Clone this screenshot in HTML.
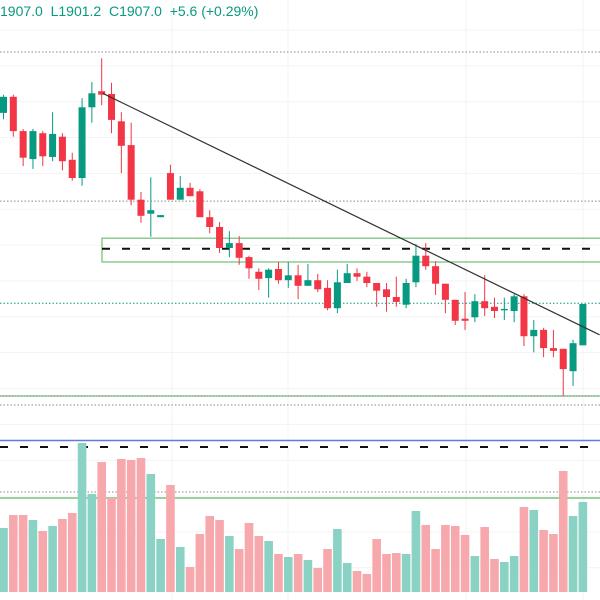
<!DOCTYPE html>
<html><head><meta charset="utf-8"><style>
html,body{margin:0;padding:0;background:#fff;}
#wrap{position:relative;width:600px;height:600px;overflow:hidden;font-family:"Liberation Sans",sans-serif;}
#hdr{position:absolute;left:0;top:3px;font-size:14px;color:#089981;white-space:pre;}
</style></head><body>
<div id="wrap">
<svg id="svg" width="600" height="600"></svg>
<div id="hdr">1907.0  L1901.2  C1907.0  +5.6 (+0.29%)</div>
</div>
<script>
const opens=[1934.3,1936.6,1931.7,1927.7,1931.4,1928.0,1930.9,1927.6,1925.0,1935.1,1937.4,1937.0,1933.1,1929.7,1921.9,1919.9,1919.4,1925.7,1921.9,1923.6,1923.1,1919.4,1918.0,1915.0,1915.7,1913.7,1911.6,1910.7,1912.0,1910.4,1911.1,1909.6,1910.4,1909.3,1906.4,1910.0,1911.4,1910.9,1910.0,1909.1,1908.0,1906.9,1910.1,1913.9,1912.4,1909.9,1907.6,1904.9,1905.1,1907.4,1906.6,1906.1,1906.0,1908.1,1902.4,1903.3,1900.7,1900.6,1897.4,1901.1];
const highs=[1936.9,1936.9,1932.0,1932.0,1931.7,1934.4,1931.4,1928.6,1936.4,1938.7,1942.1,1938.6,1934.4,1932.9,1923.0,1925.1,1919.7,1926.9,1925.3,1924.3,1923.4,1920.4,1918.7,1917.4,1916.7,1913.9,1912.1,1912.1,1913.0,1913.0,1912.6,1912.7,1911.3,1910.4,1911.9,1912.7,1912.1,1911.6,1910.0,1910.0,1910.9,1910.6,1915.6,1915.7,1913.1,1909.9,1907.6,1908.7,1908.4,1911.1,1907.9,1907.9,1908.4,1908.4,1904.7,1903.6,1903.3,1900.6,1901.9,1907.0];
const lows=[1933.4,1930.9,1926.7,1926.3,1926.7,1927.4,1926.1,1924.6,1923.9,1932.9,1935.4,1931.4,1925.7,1921.1,1918.6,1916.6,1919.4,1921.9,1921.9,1922.4,1919.4,1917.1,1914.3,1913.7,1912.6,1910.6,1909.0,1907.9,1909.9,1909.3,1907.7,1909.6,1908.7,1906.1,1905.7,1910.0,1910.3,1909.4,1906.6,1905.9,1906.6,1906.4,1909.4,1911.9,1908.3,1905.7,1904.0,1903.3,1904.4,1905.3,1905.0,1904.7,1904.4,1901.0,1900.1,1899.4,1899.4,1893.9,1895.3,1901.1];
const closes=[1936.6,1931.7,1927.9,1931.7,1928.1,1931.3,1927.4,1925.0,1935.1,1937.1,1936.9,1933.3,1929.6,1921.9,1919.6,1920.4,1919.7,1921.9,1923.6,1922.4,1919.4,1918.0,1915.0,1915.7,1913.6,1912.1,1910.6,1911.9,1910.4,1911.1,1909.6,1910.4,1909.1,1906.4,1910.1,1911.4,1910.9,1910.0,1908.9,1908.0,1907.3,1910.0,1913.9,1912.4,1909.9,1907.6,1904.6,1904.6,1907.4,1906.4,1906.0,1906.3,1908.1,1902.4,1903.3,1900.7,1900.3,1897.7,1901.4,1907.0];
const volumes=[640,770,770,720,610,660,730,790,1490,980,1300,940,1330,1320,1340,1180,530,1070,450,250,580,760,720,560,430,690,560,510,380,350,380,320,240,430,630,290,210,180,530,380,390,380,810,670,430,670,660,570,360,650,330,300,360,850,820,620,580,1210,760,900];
const levels=[1943.0,1921.7,1907.1];
const zoneTop=1916.4, zoneBottom=1913.0, zoneMid=1914.9;
const trendStart={i:10.1,p:1937.1}, trendEnd={i:60.7,p:1902.6};

const X=i=>3.5+i*9.82;
const Y=p=>304-(p-1907)*7;
const VY=v=>592-v/10;
const svg=document.getElementById('svg');
const NS='http://www.w3.org/2000/svg';
function mk(tag,attrs,name){const e=document.createElementNS(NS,tag);for(const k in attrs)e.setAttribute(k,attrs[k]);


svg.appendChild(e);return e;}
for(let k=0;k<16;k++){const y=30+k*35.85;mk('line',{x1:0,x2:600,y1:y,y2:y,stroke:'#f3f3f3','stroke-width':1},'grid-h');}
[172,288,466,583].forEach(x=>mk('line',{x1:x,x2:x,y1:0,y2:600,stroke:'#f3f3f3','stroke-width':1},'grid-v'));
mk('line',{x1:0,x2:600,y1:Y(levels[0]),y2:Y(levels[0]),stroke:'#888','stroke-width':1,'stroke-dasharray':'1.5 2'},'level-line-top');
mk('line',{x1:0,x2:600,y1:Y(levels[1]),y2:Y(levels[1]),stroke:'#888','stroke-width':1,'stroke-dasharray':'1.5 2'},'level-line-mid');
mk('line',{x1:0,x2:600,y1:Y(levels[2]),y2:Y(levels[2]),stroke:'#089981','stroke-width':1,'stroke-dasharray':'1.5 2'},'price-line');
mk('line',{x1:0,x2:600,y1:396,y2:396,stroke:'#4caf50','stroke-width':1},'support-line');
mk('line',{x1:0,x2:600,y1:396,y2:396,stroke:'#666','stroke-width':1,'stroke-dasharray':'1 2'},'support-dots');
mk('line',{x1:0,x2:600,y1:405,y2:405,stroke:'#888','stroke-width':1,'stroke-dasharray':'1.5 2'},'level-line-low');
mk('line',{x1:0,x2:600,y1:440.5,y2:440.5,stroke:'#5b7fe0','stroke-width':1.5},'blue-line');
mk('line',{x1:0,x2:600,y1:447,y2:447,stroke:'#111','stroke-width':2,'stroke-dasharray':'8 12'},'volume-dashed-line');
mk('line',{x1:0,x2:600,y1:492,y2:492,stroke:'#888','stroke-width':1,'stroke-dasharray':'1.5 2'},'volume-dotted-line');
mk('line',{x1:0,x2:600,y1:498,y2:498,stroke:'#7cc07f','stroke-width':1.5},'volume-green-line');
mk('rect',{x:102,y:Y(zoneTop),width:520,height:Y(zoneBottom)-Y(zoneTop),fill:'none',stroke:'#6fbf73','stroke-width':1.2},'zone-rect');
mk('line',{x1:102,x2:600,y1:Y(zoneMid),y2:Y(zoneMid),stroke:'#111','stroke-width':2,'stroke-dasharray':'8 12'},'zone-dashed-line');
volumes.forEach((v,i)=>{const up=closes[i]>=opens[i];
mk('rect',{x:X(i)-4.3,y:VY(v),width:8.6,height:592-VY(v),fill:up?'#8ad2c4':'#f7a8ad'},'volume-bar');});
opens.forEach((o,i)=>{const c=closes[i],up=c>=o,col=up?'#089981':'#f23645';const x=X(i);
mk('line',{x1:x,x2:x,y1:Y(highs[i]),y2:Y(lows[i]),stroke:col,'stroke-width':1},'candle-wick');
const t=Y(Math.max(o,c)),b=Y(Math.min(o,c));
mk('rect',{x:x-3.5,y:t,width:7,height:Math.max(1,b-t),fill:col},'candle-body');});
mk('line',{x1:X(trendStart.i),y1:Y(trendStart.p),x2:X(trendEnd.i),y2:Y(trendEnd.p),stroke:'#333','stroke-width':1.2},'trend-line');
</script>
</body></html>
